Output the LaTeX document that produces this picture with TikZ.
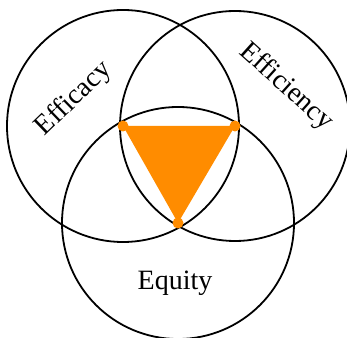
\documentclass[tikz,border=0pt]{standalone}
\usepackage{fontspec}
\setmainfont{Liberation Serif}
\definecolor{vennorange}{HTML}{FF8C00}

\begin{document}
\begin{tikzpicture}[x=1pt,y=1pt,
    ring/.style={line width=1.8pt},
    setname/.style={font=\fontsize{28}{32}\selectfont, inner sep=0pt}]
    \useasboundingbox (0,0) rectangle (347,337);
    \coordinate (efficacy) at (123,211);
    \coordinate (efficiency) at (235,211);
    \coordinate (equity) at (178,114);
    \fill [vennorange] (efficacy) -- (efficiency) -- (equity) -- cycle;
    \draw [ring] (efficacy) circle [radius=116];
    \draw [ring] (efficiency) circle [radius=115];
    \draw [ring] (equity) circle [radius=116];
    \foreach \c in {efficacy,efficiency,equity}
        \fill [vennorange] (\c) circle [radius=5.5];
    \node [setname, rotate=44] (tefficacy) at (74,238) {Efficacy};
    \node [setname, rotate=-42] (tefficiency) at (286,250) {Efficiency};
    \node [setname] (tequity) at (175,54) {Equity};
\end{tikzpicture}
\end{document}
